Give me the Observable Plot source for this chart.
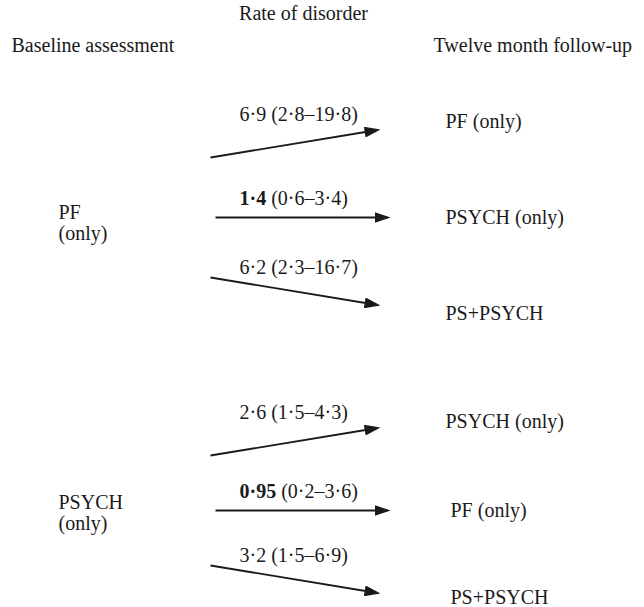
<!DOCTYPE html>
<html>
<head>
<meta charset="utf-8">
<script src="https://cdn.jsdelivr.net/npm/d3@7"></script>
<script src="https://cdn.jsdelivr.net/npm/@observablehq/plot@0.6"></script>
<style>
  html, body { margin: 0; padding: 0; background: #ffffff; }
  #chart svg { display: block; }
</style>
</head>
<body>
<div id="chart"></div>
<script>
// ---------- data ----------
const title = "Rate of disorder";
const leftHeader = "Baseline assessment";
const rightHeader = "Twelve month follow-up";
const baselineGroups = ["PF\n(only)", "PSYCH\n(only)"];
const followUpOutcomes = ["PF (only)", "PSYCH (only)", "PS+PSYCH", "PSYCH (only)", "PF (only)", "PS+PSYCH"];
const arrowGroup = [0, 0, 0, 1, 1, 1];
const arrowSlot = [-1, 0, 1, -1, 0, 1];
const rates = [6.9, 1.4, 6.2, 2.6, 0.95, 3.2];
const ciLower = [2.8, 0.6, 2.3, 1.5, 0.2, 1.5];
const ciUpper = [19.8, 3.4, 16.7, 4.3, 3.6, 6.9];
const highlighted = [false, true, false, false, true, false];

// ---------- layout (pixel space of the diagram) ----------
const W = 644, H = 607;
const layout = {
  groupCenter: [217, 510],
  startStep: [60, 55],
  tipStep: [88, 83],
  outcomeStep: [96, 89],
  labelLift: {"-1": 29, "0": 19, "1": 24},
  slantStartX: 210, slantTipX: 380,
  flatStartX: 215, flatTipX: 390,
  labelX: 239,
  outcomeX: 445,
  baselineX: 58,
  baselineY: [222, 512],
  titleX: 303, titleY: 13,
  headerY: 45, leftHeaderX: 11, rightHeaderX: 433,
  headOvershoot: 3
};
const ink = "#1a1a1a";
const serif = "'Liberation Serif', 'Times New Roman', Times, serif";
const fmt = v => String(v).replace(".", "\u00b7");

const arrows = rates.map((r, i) => {
  const g = arrowGroup[i], s = arrowSlot[i], flat = s === 0;
  const x1 = flat ? layout.flatStartX : layout.slantStartX;
  const y1 = layout.groupCenter[g] + s * layout.startStep[g];
  const tx = flat ? layout.flatTipX : layout.slantTipX;
  const ty = layout.groupCenter[g] + s * layout.tipStep[g];
  const len = Math.hypot(tx - x1, ty - y1);
  const k = (len - layout.headOvershoot) / len;
  return {
    x1, y1,
    x2: x1 + (tx - x1) * k,
    y2: y1 + (ty - y1) * k,
    lx: layout.labelX,
    ly: (y1 + ty) / 2 - layout.labelLift[s],
    est: fmt(r),
    label: `${fmt(r)} (${fmt(ciLower[i])}\u2013${fmt(ciUpper[i])})`,
    bold: highlighted[i],
    ox: layout.outcomeX + (g === 1 && s >= 0 ? 5 : 0),
    oy: layout.groupCenter[g] + s * layout.outcomeStep[g] + (g === 1 && s === 1 ? -2 : 0),
    outcome: followUpOutcomes[i]
  };
});

const baselineRows = baselineGroups.map((t, g) => ({
  text: t, x: layout.baselineX, y: layout.baselineY[g]
}));

function headMarker(color, context) {
  const doc = (context && context.document) || document;
  const ns = "http://www.w3.org/2000/svg";
  const m = doc.createElementNS(ns, "marker");
  m.setAttribute("viewBox", "-16 -5.5 16 11");
  m.setAttribute("markerWidth", 16);
  m.setAttribute("markerHeight", 11);
  m.setAttribute("markerUnits", "userSpaceOnUse");
  m.setAttribute("orient", "auto");
  m.setAttribute("refX", -layout.headOvershoot);
  m.setAttribute("refY", 0);
  const p = doc.createElementNS(ns, "path");
  p.setAttribute("d", "M-16,-5.5L0,0L-16,5.5Z");
  p.setAttribute("fill", ink);
  p.setAttribute("stroke", "none");
  m.appendChild(p);
  return m;
}

const fontSize = 20;
const textOpts = {fontSize, fontFamily: serif, fill: ink};
const chart = Plot.plot({
  width: W,
  height: H,
  margin: 0,
  x: {domain: [0, W], range: [0, W], axis: null},
  y: {domain: [0, H], range: [0, H], axis: null},
  style: {fontFamily: serif, fontSize: fontSize + "px", color: ink, background: "#ffffff"},
  marks: [
    Plot.text([title], {x: layout.titleX, y: layout.titleY, text: d => d, textAnchor: "middle", ...textOpts}),
    Plot.text([leftHeader], {x: layout.leftHeaderX, y: layout.headerY, text: d => d, textAnchor: "start", ...textOpts}),
    Plot.text([rightHeader], {x: layout.rightHeaderX, y: layout.headerY, text: d => d, textAnchor: "start", ...textOpts}),
    Plot.link(arrows, {x1: "x1", y1: "y1", x2: "x2", y2: "y2", stroke: ink, strokeWidth: 1.8, markerEnd: headMarker}),
    Plot.text(arrows, {x: "lx", y: "ly", text: "label", textAnchor: "start", ...textOpts}),
    Plot.text(arrows, {x: "ox", y: "oy", text: "outcome", textAnchor: "start", ...textOpts}),
    Plot.text(baselineRows, {x: "x", y: "y", text: "text", textAnchor: "start", lineHeight: 1.05, ...textOpts})
  ]
});
document.getElementById("chart").appendChild(chart);

// bold the highlighted point estimates (split the label into two tspans)
const boldLabels = new Map(arrows.filter(a => a.bold).map(a => [a.label, a.est]));
chart.querySelectorAll("text").forEach(node => {
  const full = node.textContent;
  if (!boldLabels.has(full) || node.querySelector("tspan")) return;
  const est = boldLabels.get(full);
  const sel = d3.select(node);
  sel.text(null);
  sel.append("tspan").attr("font-weight", "bold").text(est);
  sel.append("tspan").text(full.slice(est.length));
});
</script>
</body>
</html>
